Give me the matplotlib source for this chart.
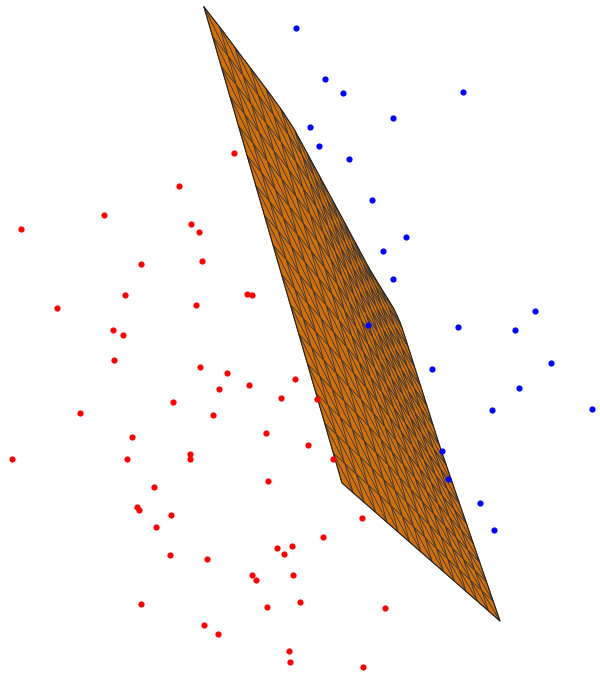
import numpy as np
import matplotlib
matplotlib.use("Agg")
import matplotlib.pyplot as plt
from matplotlib.collections import PolyCollection

# Projected positions of the two classes (screen units, y grows downward)
red_x = [234, 179, 104, 21, 191, 199, 202, 141, 247, 252, 125, 196, 57, 113, 123,
         114, 200, 227, 219, 249, 295, 173, 281, 317, 80, 213, 132, 266, 12, 127,
         190, 190, 308, 333, 154, 268, 137, 139, 171, 156, 362, 323, 277, 292, 284,
         170, 207, 252, 256, 293, 141, 267, 300, 385, 204, 218, 289, 290, 363]
red_y = [153, 186, 215, 229, 224, 232, 261, 264, 294, 295, 295, 305, 308, 330, 335,
         360, 367, 373, 389, 385, 379, 402, 398, 399, 413, 415, 437, 433, 459, 459,
         454, 459, 445, 459, 487, 481, 507, 510, 515, 527, 518, 537, 548, 546, 554,
         555, 559, 575, 580, 575, 604, 607, 602, 608, 625, 634, 651, 662, 667]

blue_x = [296, 325, 343, 463, 393, 310, 319, 349, 372, 406, 383, 393, 535, 368,
          458, 515, 551, 432, 519, 492, 592, 442, 448, 480, 494]
blue_y = [28, 79, 93, 92, 118, 127, 146, 159, 200, 237, 251, 279, 311, 325,
          327, 330, 363, 369, 388, 410, 409, 451, 479, 503, 530]

# Outline of the separating plane: four corners and the bowed upper-right edge
corner_top = (204, 7)
corner_right = (394, 309)
corner_bottom = (500, 621)
corner_left = (342, 483)
upper_edge_x = [204, 222, 239, 255, 270, 283, 294, 320, 347, 370, 386, 394]
upper_edge_y = [7, 30, 53, 74, 94, 112, 129, 177, 227, 270, 296, 309]
right_edge_x = [394, 400, 406, 440, 500]
right_edge_y = [309, 322, 340, 447, 621]

N_S, N_T = 15, 17


def resample(xs, ys, n):
    xs, ys = np.asarray(xs, float), np.asarray(ys, float)
    d = np.r_[0, np.cumsum(np.hypot(np.diff(xs), np.diff(ys)))]
    u = np.linspace(0, d[-1], n)
    return np.interp(u, d, xs), np.interp(u, d, ys)


def line(p, q, n):
    f = np.linspace(0, 1, n)
    return p[0] + (q[0] - p[0]) * f, p[1] + (q[1] - p[1]) * f


# Boundary curves of the patch
c0 = np.array(resample(upper_edge_x, upper_edge_y, N_S))      # t = 0 : top -> right
c1 = np.array(line(corner_left, corner_bottom, N_S))           # t = 1 : left -> bottom
d0 = np.array(line(corner_top, corner_left, N_T))              # s = 0 : top -> left
d1 = np.array(resample(right_edge_x, right_edge_y, N_T))       # s = 1 : right -> bottom

s = np.linspace(0, 1, N_S)[None, :]
t = np.linspace(0, 1, N_T)[:, None]
P = np.array([corner_top, corner_right, corner_left, corner_bottom], float)

grid = []
for k in range(2):
    ruled_s = (1 - t) * c0[k][None, :] + t * c1[k][None, :]
    ruled_t = (1 - s) * d0[k][:, None] + s * d1[k][:, None]
    bil = ((1 - s) * (1 - t) * P[0, k] + s * (1 - t) * P[1, k]
           + (1 - s) * t * P[2, k] + s * t * P[3, k])
    grid.append(ruled_s + ruled_t - bil)
GX, GY = grid

tris = []
for i in range(N_T - 1):
    for j in range(N_S - 1):
        a = (GX[i, j], GY[i, j])
        b = (GX[i, j + 1], GY[i, j + 1])
        c = (GX[i + 1, j + 1], GY[i + 1, j + 1])
        d = (GX[i + 1, j], GY[i + 1, j])
        tris.append([a, b, c])
        tris.append([a, c, d])

fig = plt.figure(figsize=(6.0, 6.74), dpi=100)
ax = fig.add_axes([0, 0, 1, 1])
ax.set_xlim(0, 600)
ax.set_ylim(674, 0)
ax.axis("off")

mesh = PolyCollection(tris, facecolors="#d4700a", edgecolors="#3b3632",
                      linewidths=0.5, zorder=1)
ax.add_collection(mesh)
outline_x = upper_edge_x + right_edge_x[1:] + [corner_left[0], corner_top[0]]
outline_y = upper_edge_y + right_edge_y[1:] + [corner_left[1], corner_top[1]]
ax.plot(outline_x, outline_y, color="#222222", lw=0.8, zorder=2)

ax.scatter(red_x, red_y, s=20, c="#ff0000", linewidths=0, zorder=3)
ax.scatter(blue_x, blue_y, s=20, c="#0000ff", linewidths=0, zorder=3)

fig.savefig("out.png", dpi=100)
